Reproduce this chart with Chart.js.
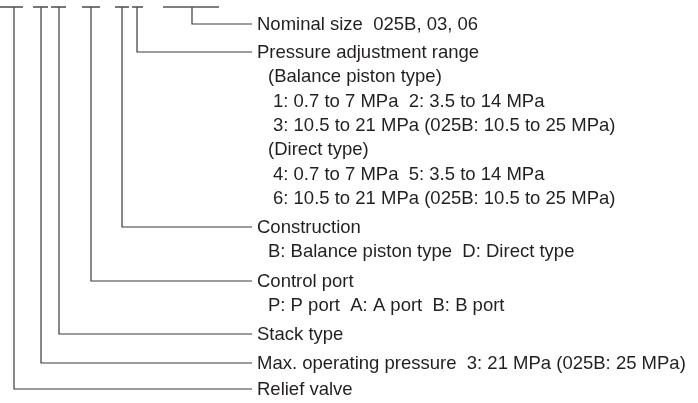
<!DOCTYPE html>
<html>
<head>
<meta charset="utf-8">
<script src="https://cdn.jsdelivr.net/npm/chart.js@4/dist/chart.umd.min.js"></script>
<style>
  html, body { margin: 0; padding: 0; background: #fff; }
  #wrap { width: 698px; height: 403px; }
</style>
</head>
<body>
<div id="wrap"><canvas id="codeChart" width="698" height="403"></canvas></div>
<script>
// Model code fields (from right-most code position to left-most)
const fieldNames = [
    'Nominal size  025B, 03, 06',
    'Pressure adjustment range',
    'Construction',
    'Control port',
    'Stack type',
    'Max. operating pressure  3: 21 MPa (025B: 25 MPa)',
    'Relief valve'
];

// Detail lines under each field (group headings and option lines)
const pressureDetails = [
    '(Balance piston type)',
    '1: 0.7 to 7 MPa  2: 3.5 to 14 MPa',
    '3: 10.5 to 21 MPa (025B: 10.5 to 25 MPa)',
    '(Direct type)',
    '4: 0.7 to 7 MPa  5: 3.5 to 14 MPa',
    '6: 10.5 to 21 MPa (025B: 10.5 to 25 MPa)'
];
const constructionDetails = ['B: Balance piston type  D: Direct type'];
const controlPortDetails = ['P: P port  A: A port  B: B port'];
const fieldDetails = [[], pressureDetails, constructionDetails, controlPortDetails, [], [], []];
// heading lines (in parentheses) sit a bit left of the option lines
const detailIsHeading = [[], [true, false, false, true, false, false], [true], [true], [], [], []];

// Layout (page pixels)
const W = 698, H = 403;
const topY = 7;
const slotSpans = [[0, 23], [33, 48], [51, 66], [82, 100], [115, 129], [132, 143], [163, 219]];
const stemX = [192, 137, 122, 91, 59, 41, 14];
const rowY = [24, 52, 227, 281, 334, 363, 389];
const lineEndX = 252;
const textX = 257, headingX = 268, optionX = 273;
const lineGap = 24.3;
const ink = '#231f20';
const lineColor = '#3a3a3a';

const datasets = [];
slotSpans.forEach(s => {
    datasets.push({
        data: [{x: s[0], y: topY}, {x: s[1], y: topY}],
        showLine: true, borderColor: '#555', borderWidth: 1.6, pointRadius: 0
    });
});
stemX.forEach((x, i) => {
    datasets.push({
        data: [{x: x, y: topY}, {x: x, y: rowY[i]}, {x: lineEndX, y: rowY[i]}],
        showLine: true, borderColor: lineColor, borderWidth: 1.2, pointRadius: 0,
        tension: 0
    });
});

// Draw the text labels at data coordinates
const labelPlugin = {
    id: 'labels',
    afterDraw(chart) {
        const ctx = chart.ctx;
        const xs = chart.scales.x, ys = chart.scales.y;
        ctx.save();
        ctx.fillStyle = ink;
        ctx.font = '18.5px "Liberation Sans", Arial, sans-serif';
        ctx.textBaseline = 'middle';
        ctx.textAlign = 'left';
        fieldNames.forEach((name, i) => {
            ctx.fillText(name, xs.getPixelForValue(textX), ys.getPixelForValue(rowY[i]) + 1);
            fieldDetails[i].forEach((line, j) => {
                const x = detailIsHeading[i][j] ? headingX : optionX;
                const y = rowY[i] + (j + 1) * lineGap;
                ctx.fillText(line, xs.getPixelForValue(x), ys.getPixelForValue(y) + 1);
            });
        });
        ctx.restore();
    }
};

new Chart(document.getElementById('codeChart'), {
    type: 'scatter',
    data: { datasets: datasets },
    options: {
        responsive: false,
        animation: false,
        layout: { padding: 0 },
        plugins: { legend: { display: false }, tooltip: { enabled: false } },
        scales: {
            x: { type: 'linear', min: 0, max: W, display: false },
            y: { type: 'linear', min: 0, max: H, reverse: true, display: false }
        }
    },
    plugins: [labelPlugin]
});
</script>
</body>
</html>
